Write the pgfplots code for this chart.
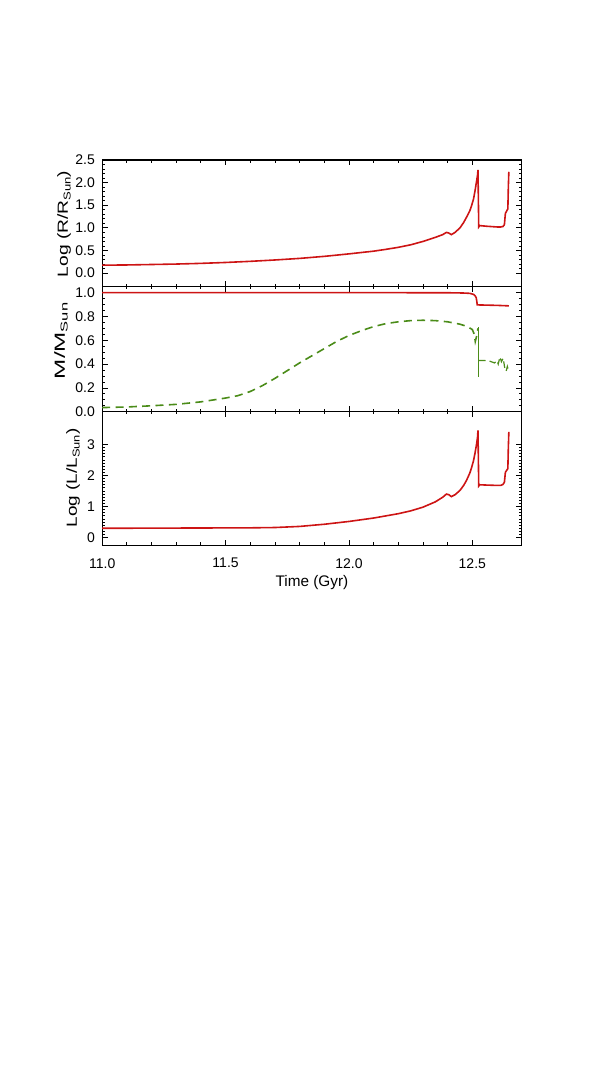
\documentclass[border=0pt]{standalone}
\usepackage{graphicx}
\usepackage{pgfplots}
\pgfplotsset{compat=1.18}
\usepackage{fontspec}
\setmainfont{Liberation Sans}
\definecolor{myred}{RGB}{205,20,20}
\definecolor{mygreen}{RGB}{75,140,25}
\newcommand{\sunsub}{\raisebox{-0.35ex}{\fontsize{7.5}{9}\selectfont Sun}}
\pgfplotsset{
  panel/.style={
    scale only axis, width=314.6pt, xmin=11, xmax=12.7,
    xtick={11,11.5,12,12.5}, minor x tick num=4,
    tick align=inside, major tick length=4pt, minor tick length=2pt,
    axis line style={line width=0.8pt},
    tick style={black, line width=0.6pt},
    /pgf/number format/assume math mode=true,
    tick label style={font=\fontsize{10.5}{12}\selectfont},
    label style={font=\fontsize{11}{13}\selectfont},
    yticklabel style={xshift=-2pt, /pgf/number format/.cd, fixed, fixed zerofill, precision=1},
    xticklabel style={yshift=-6.4pt, /pgf/number format/.cd, fixed, fixed zerofill, precision=1},
    every axis plot/.append style={line width=1.2pt},
  }
}
\begin{document}
\begin{tikzpicture}
\path[use as bounding box] (0,0) rectangle (449.25pt,-817.5pt);
% Panel 1: radius
\begin{axis}[panel, name=p1, at={(76.65pt,-120pt)}, anchor=north west,
  height=95pt, ymin=-0.3, ymax=2.5, ytick={0,0.5,1,1.5,2,2.5}, minor y tick num=4,
  xticklabels={},
  ylabel={\scalebox{1.31}[1]{Log (R/R\sunsub)}},
  ylabel style={at={(axis description cs:-0.091,0.495)}, anchor=center}]
\addplot[myred] coordinates {
(11.00,0.175)(11.10,0.18)(11.20,0.19)(11.30,0.20)(11.40,0.215)(11.50,0.235)
(11.60,0.26)(11.70,0.29)(11.80,0.325)(11.90,0.37)(12.00,0.425)(12.05,0.455)
(12.10,0.485)(12.15,0.525)(12.20,0.57)(12.25,0.625)(12.30,0.70)(12.35,0.79)
(12.38,0.85)(12.395,0.90)(12.405,0.885)(12.415,0.85)(12.43,0.90)(12.45,1.00)
(12.465,1.12)(12.477,1.24)(12.49,1.38)(12.497,1.49)(12.505,1.64)(12.511,1.82)
(12.517,2.02)(12.521,2.16)(12.523,2.28)(12.526,1.02)(12.53,1.05)(12.56,1.035)
(12.60,1.02)(12.615,1.02)(12.624,1.03)(12.630,1.07)(12.634,1.32)(12.638,1.36)
(12.644,1.42)(12.646,1.9)(12.648,2.24)};
\end{axis}
% Panel 2: mass
\begin{axis}[panel, name=p2, at={(76.65pt,-215pt)}, anchor=north west,
  height=93.8pt, ymin=0, ymax=1.05, ytick={0,0.2,0.4,0.6,0.8,1.0}, minor y tick num=3,
  xticklabels={},
  ylabel={\scalebox{1.65}[1]{M/M\sunsub}},
  ylabel style={at={(axis description cs:-0.098,0.566)}, anchor=center}]
\addplot[myred] coordinates {
(11.00,1.0)(11.50,1.0)(12.00,1.0)(12.40,0.999)(12.46,0.997)(12.49,0.994)
(12.505,0.985)(12.512,0.972)(12.516,0.955)(12.518,0.93)(12.52,0.897)
(12.56,0.895)(12.60,0.893)(12.648,0.889)};
\addplot[mygreen, dash pattern=on 6pt off 4pt] coordinates {
(11.00,0.035)(11.10,0.04)(11.20,0.05)(11.30,0.062)(11.40,0.083)(11.50,0.115)
(11.55,0.135)(11.60,0.17)(11.65,0.22)(11.70,0.28)(11.75,0.345)(11.80,0.41)
(11.85,0.47)(11.90,0.53)(11.95,0.59)(12.00,0.64)(12.05,0.68)(12.10,0.715)
(12.15,0.74)(12.20,0.755)(12.25,0.765)(12.30,0.768)(12.35,0.765)(12.40,0.755)
(12.45,0.735)(12.48,0.715)(12.50,0.69)(12.508,0.65)(12.512,0.59)(12.518,0.64)(12.523,0.70)};
\addplot[mygreen, line width=0.9pt] coordinates {(12.524,0.71)(12.524,0.29)};
\addplot[mygreen, dash pattern=on 5pt off 3pt, line width=0.9pt] coordinates {
(12.527,0.43)(12.55,0.43)(12.57,0.425)(12.59,0.41)(12.60,0.43)(12.605,0.40)
(12.612,0.46)(12.618,0.42)(12.625,0.45)(12.632,0.36)(12.637,0.34)(12.642,0.38)(12.646,0.35)};
\end{axis}
% Panel 3: luminosity
\begin{axis}[panel, name=p3, at={(76.65pt,-308.8pt)}, anchor=north west,
  height=100pt, ymin=-0.24, ymax=4.05, ytick={0,1,2,3}, minor y tick num=9,
  yticklabel style={/pgf/number format/.cd, fixed, precision=0},
  xlabel={Time (Gyr)},
  xlabel style={at={(axis description cs:0.5,0)}, anchor=center, yshift=-27.75pt, font=\fontsize{11.5}{13}\selectfont},
  ylabel={\scalebox{1.29}[1]{Log (L/L\sunsub)}},
  ylabel style={at={(axis description cs:-0.0696,0.503)}, anchor=center}]
\addplot[myred] coordinates {
(11.00,0.30)(11.20,0.305)(11.40,0.31)(11.60,0.315)(11.70,0.325)(11.80,0.36)
(11.90,0.43)(12.00,0.52)(12.10,0.63)(12.20,0.77)(12.25,0.86)(12.30,0.98)
(12.35,1.15)(12.38,1.30)(12.395,1.40)(12.405,1.38)(12.415,1.32)(12.43,1.38)
(12.45,1.52)(12.465,1.68)(12.477,1.85)(12.49,2.08)(12.497,2.25)(12.505,2.48)
(12.511,2.72)(12.517,3.0)(12.521,3.22)(12.523,3.45)(12.526,1.66)(12.53,1.70)
(12.56,1.69)(12.60,1.68)(12.615,1.68)(12.624,1.71)(12.630,1.78)(12.634,2.10)
(12.638,2.15)(12.644,2.22)(12.646,2.9)(12.648,3.40)};
\end{axis}
\end{tikzpicture}
\end{document}
